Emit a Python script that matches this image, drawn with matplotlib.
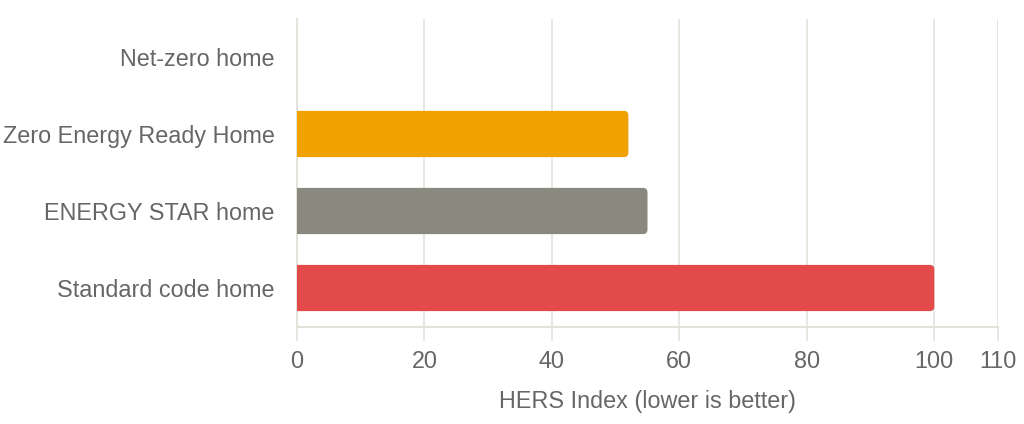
import matplotlib.pyplot as plt
from matplotlib.patches import FancyBboxPatch

plt.rcParams['font.family'] = ['Liberation Sans', 'DejaVu Sans']

# data
homes = ['Net-zero home', 'Zero Energy Ready Home', 'ENERGY STAR home', 'Standard code home']
hers = [0, 52, 55, 100]
colors = ['#EFA200', '#EFA200', '#8A8980', '#E34A4A']
xticks = [0, 20, 40, 60, 80, 100, 110]

grid_col = '#E3E3DC'
text_col = '#666666'

W, H = 1024, 424
fig = plt.figure(figsize=(W / 100, H / 100), dpi=100)
ax = fig.add_axes([297 / W, 1 - 326.5 / H, (998 - 297) / W, (326.5 - 18.5) / H])

ax.set_xlim(0, 110)
ax.set_ylim(len(homes) - 0.5, -0.5)

# pixels per data unit, for the rounded corners
px_x = (998 - 297) / 110
px_y = (326.5 - 18.5) / len(homes)
r_px = 4.5
bar_h = 0.6

for i, (v, c) in enumerate(zip(hers, colors)):
    if v <= 0:
        continue
    rx = r_px / px_x
    ry = r_px / px_y
    p = FancyBboxPatch((-2, i - bar_h / 2), v + 2, bar_h,
                       boxstyle=f"round,pad=0,rounding_size={rx}",
                       mutation_aspect=ry / rx,
                       facecolor=c, edgecolor='none', zorder=3)
    ax.add_patch(p)

ax.set_xticks(xticks)
ax.set_yticks(range(len(homes)))
ax.set_yticklabels(homes)
ax.grid(axis='x', color=grid_col, linewidth=1.2, zorder=0)
ax.set_axisbelow(True)

for s in ['top', 'right']:
    ax.spines[s].set_visible(False)
ax.spines['left'].set_color(grid_col)
ax.spines['bottom'].set_color(grid_col)
ax.spines['left'].set_linewidth(1.5)
ax.spines['bottom'].set_linewidth(1.5)

ax.tick_params(axis='x', direction='out', length=10, width=1.2, color=grid_col,
               labelsize=16.8, labelcolor=text_col, pad=7)
ax.tick_params(axis='y', length=0, labelsize=16.8, labelcolor=text_col, pad=16)

ax.set_xlabel('HERS Index (lower is better)', fontsize=16.8, color=text_col, labelpad=12)

fig.savefig('out.png', dpi=100)
